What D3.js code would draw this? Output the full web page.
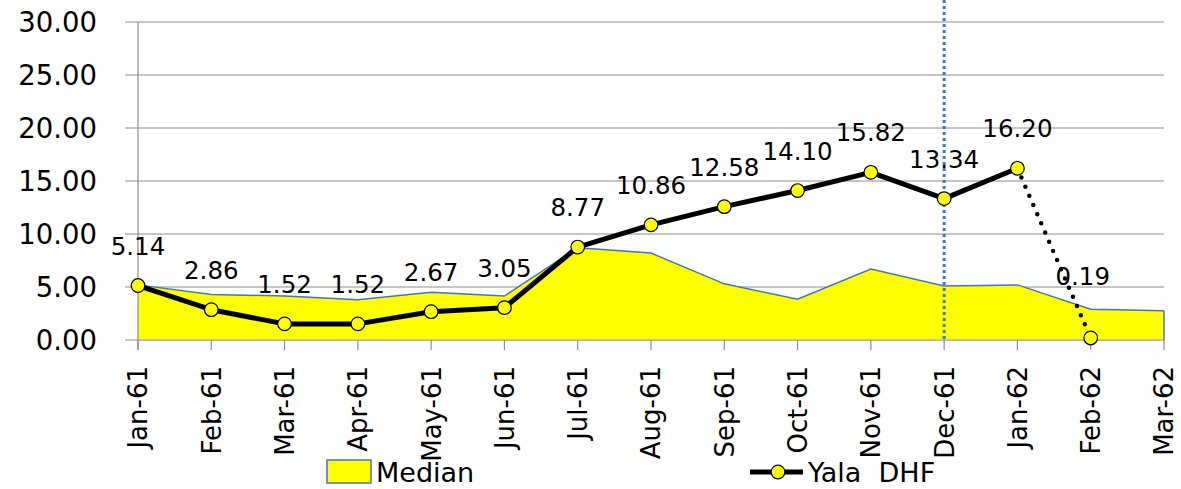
<!DOCTYPE html>
<html><head><meta charset="utf-8">
<script src="https://cdn.jsdelivr.net/npm/d3@7"></script>
<style>html,body{margin:0;padding:0;background:#fff;}svg{display:block;}</style>
</head><body><svg id="c" width="1181" height="489"></svg>
<script>
const months = ["Jan-61","Feb-61","Mar-61","Apr-61","May-61","Jun-61","Jul-61","Aug-61","Sep-61","Oct-61","Nov-61","Dec-61","Jan-62","Feb-62","Mar-62"];
const median = [5.2,4.3,4.15,3.8,4.5,4.15,8.7,8.2,5.3,3.85,6.7,5.1,5.2,2.9,2.75];
const yala = [5.14,2.86,1.52,1.52,2.67,3.05,8.77,10.86,12.58,14.10,15.82,13.34,16.20,0.19];
const yTicks = [0,5,10,15,20,25,30];
const markerMonth = "Dec-61";

const svg = d3.select("#c");
const font = "'DejaVu Sans', sans-serif";
const x = d3.scalePoint().domain(months).range([138,1164]);
const y = d3.scaleLinear().domain([0,30]).range([340,22]);

// gridlines
svg.append("g").selectAll("line").data(yTicks).join("line")
  .attr("x1",125).attr("x2",1164).attr("y1",d=>y(d)).attr("y2",d=>y(d))
  .attr("stroke","#8c8c8c").attr("stroke-width",1.2);

// y axis labels
svg.append("g").selectAll("text").data(yTicks).join("text")
  .attr("x",97).attr("y",d=>y(d)).attr("dy","0.36em").attr("text-anchor","end")
  .attr("font-family",font).attr("font-size",27.5).attr("fill","#000")
  .text(d=>d.toFixed(2));

// median area
const area = d3.area().x((d,i)=>x(months[i])).y0(y(0)).y1(d=>y(d));
svg.append("path").datum(median).attr("d",area).attr("fill","#ffff00").attr("stroke","none");
const mline = d3.line().x((d,i)=>x(months[i])).y(d=>y(d));
svg.append("path").datum(median).attr("d",mline).attr("fill","none").attr("stroke","#4472c4").attr("stroke-width",1.5);
svg.append("line").attr("x1",x(months[months.length-1])).attr("x2",x(months[months.length-1]))
  .attr("y1",y(median[median.length-1])).attr("y2",y(0)).attr("stroke","#4472c4").attr("stroke-width",1.5);

// y axis line
svg.append("line").attr("x1",138).attr("x2",138).attr("y1",y(30)).attr("y2",350).attr("stroke","#8c8c8c").attr("stroke-width",1.2);
// x axis baseline
svg.append("line").attr("x1",138).attr("x2",1164).attr("y1",y(0)).attr("y2",y(0)).attr("stroke","#8fa6cf").attr("stroke-width",1.2);
// x ticks
svg.append("g").selectAll("line").data(months).join("line")
  .attr("x1",d=>x(d)).attr("x2",d=>x(d)).attr("y1",y(0)).attr("y2",350)
  .attr("stroke","#8c8c8c").attr("stroke-width",1.2);
// x labels
svg.append("g").selectAll("text").data(months).join("text")
  .attr("transform",d=>`translate(${x(d)},366) rotate(-90)`)
  .attr("dy","0.36em").attr("text-anchor","end")
  .attr("font-family",font).attr("font-size",26).attr("fill","#000").text(d=>d);

// vertical dotted marker
svg.append("line").attr("x1",x(markerMonth)).attr("x2",x(markerMonth)).attr("y1",0).attr("y2",y(0))
  .attr("stroke","#4472c4").attr("stroke-width",3).attr("stroke-dasharray","3 3");

// yala line
const solid = yala.slice(0, yala.length-1);
const line = d3.line().x((d,i)=>x(months[i])).y(d=>y(d));
svg.append("path").datum(solid).attr("d",line).attr("fill","none").attr("stroke","#000").attr("stroke-width",5).attr("stroke-linejoin","round");
const n = yala.length;
svg.append("line").attr("x1",x(months[n-2])).attr("y1",y(yala[n-2])).attr("x2",x(months[n-1])).attr("y2",y(yala[n-1]))
  .attr("stroke","#000").attr("stroke-width",4.5).attr("stroke-linecap","round").attr("stroke-dasharray","0 10");

// markers
svg.append("g").selectAll("circle").data(yala).join("circle")
  .attr("cx",(d,i)=>x(months[i])).attr("cy",d=>y(d)).attr("r",6.8)
  .attr("fill","#ffff00").attr("stroke","#000").attr("stroke-width",1.2);

// labels
svg.append("g").selectAll("text").data(yala).join("text")
  .attr("x",(d,i)=>x(months[i]) - (i===n-1?8:0))
  .attr("y",(d,i)=>y(d) - (i===n-1?53:31))
  .attr("text-anchor","middle").attr("font-family",font).attr("font-size",24.5).attr("fill","#000")
  .text(d=>d.toFixed(2));

// legend
svg.append("rect").attr("x",327).attr("y",460).attr("width",44).attr("height",23).attr("fill","#ffff00").attr("stroke","#4472c4").attr("stroke-width",1.5);
svg.append("text").attr("x",376).attr("y",482).attr("font-family",font).attr("font-size",27).attr("fill","#000").text("Median");
svg.append("line").attr("x1",750).attr("x2",803).attr("y1",472).attr("y2",472).attr("stroke","#000").attr("stroke-width",5);
svg.append("circle").attr("cx",778).attr("cy",472).attr("r",6.8).attr("fill","#ffff00").attr("stroke","#000").attr("stroke-width",1.2);
svg.append("text").attr("x",808).attr("y",482).attr("font-family",font).attr("font-size",27).attr("fill","#000").attr("xml:space","preserve").style("white-space","pre").text("Yala  DHF");
</script></body></html>
